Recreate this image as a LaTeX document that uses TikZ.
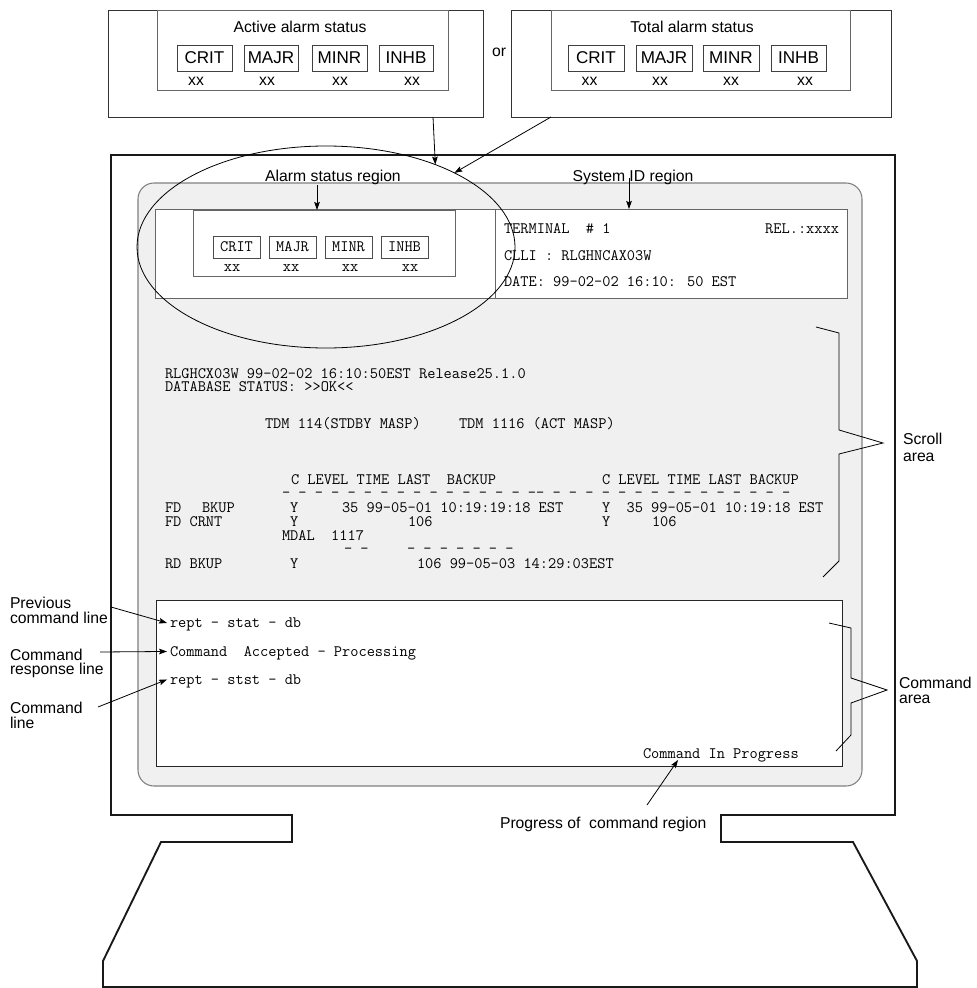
\documentclass[tikz,border=0pt]{standalone}
\usepackage{fontspec}
\setmainfont{Liberation Sans}
\usetikzlibrary{arrows.meta,shapes.geometric,fit}
\newlength{\pxu}\setlength{\pxu}{0.75pt}
\definecolor{scr}{HTML}{F0F0F0}
\begin{document}
\begin{tikzpicture}[x=0.75pt,y=-0.75pt,
  sans/.style={font=\fontsize{11.8}{14}\selectfont, inner sep=0pt, outer sep=0pt},
  sansl/.style={sans, anchor=base west},
  sansc/.style={sans, anchor=base},
  mono/.style={font=\fontsize{11.94}{14}\ttfamily, inner sep=0pt, outer sep=0pt,
               text height=6.5pt, text depth=1.5pt, anchor=base west},
  monoc/.style={mono, anchor=base},
  frame/.style={draw=black!80, line width=0.7pt, inner sep=0pt, outer sep=0pt},
  grayframe/.style={draw=black!60, line width=0.7pt, inner sep=0pt, outer sep=0pt},
  chip/.style={draw=black!75, line width=0.7pt, inner sep=0pt, outer sep=0pt,
               minimum height=26*\pxu, font=\fontsize{12.8}{14}\selectfont},
  mchip/.style={draw=black!70, line width=0.6pt, inner sep=0pt, outer sep=0pt,
               minimum width=47*\pxu, minimum height=22*\pxu, font=\fontsize{11.94}{14}\ttfamily},
  arr/.style={-{Stealth[length=6pt,width=4.2pt,inset=1pt]}, line width=0.6pt, black},
  brace/.style={line width=0.6pt, black},
]
\useasboundingbox (0,0) rectangle (977,988);

% ---------- top: Active alarm status ----------
\node[frame, fit={(108,10)(483,117)}] (aout) {};
\node[grayframe, fit={(157,10)(448,90)}] (ain) {};
\node[sansc] (atitle) at (300,32.5) {Active alarm status};
\node[chip, minimum width=55*\pxu] (ac1) at (204.5,58) {CRIT};
\node[chip, minimum width=54*\pxu] (ac2) at (271,58) {MAJR};
\node[chip, minimum width=55*\pxu] (ac3) at (339.5,58) {MINR};
\node[chip, minimum width=54*\pxu] (ac4) at (406,58) {INHB};
\node[sansc] (ax1) at (196,86) {xx};
\node[sansc] (ax2) at (267,86) {xx};
\node[sansc] (ax3) at (340,86) {xx};
\node[sansc] (ax4) at (412,86) {xx};

\node[sansc] (or) at (499,57) {or};

% ---------- top: Total alarm status ----------
\node[frame, fit={(511,10)(891,117)}] (tout) {};
\node[grayframe, fit={(551,10)(850,90)}] (tin) {};
\node[sansc] (ttitle) at (692,32.5) {Total alarm status};
\node[chip, minimum width=56*\pxu] (tc1) at (596,58) {CRIT};
\node[chip, minimum width=56*\pxu] (tc2) at (664,58) {MAJR};
\node[chip, minimum width=56*\pxu] (tc3) at (731,58) {MINR};
\node[chip, minimum width=55*\pxu] (tc4) at (798.5,58) {INHB};
\node[sansc] (tx1) at (589.5,86) {xx};
\node[sansc] (tx2) at (660,86) {xx};
\node[sansc] (tx3) at (731,86) {xx};
\node[sansc] (tx4) at (805,86) {xx};

% ---------- monitor ----------
\draw[line width=1.4pt, line join=miter, black!90]
  (111,155) -- (895,155) -- (895,815) -- (721,815) -- (721,842) -- (853,842)
  -- (917,961) -- (917,987) -- (103,987) -- (103,961) -- (161,842) -- (292,842)
  -- (292,815) -- (111,815) -- cycle;

\node[fit={(138,183)(862,786)}, inner sep=0pt, outer sep=0pt, draw=black!50,
      line width=0.8pt, fill=scr, rounded corners=12pt] (screen) {};

% top region
\node[grayframe, fill=white, fit={(155,209)(847,298)}] (topreg) {};
\draw[black!60, line width=0.7pt] (495,209) -- (495,298);
\node[grayframe, fit={(193,210)(455,276)}] (alin) {};
\node[mchip] (mc1) at (236.5,247) {CRIT};
\node[mchip] (mc2) at (292.5,247) {MAJR};
\node[mchip] (mc3) at (348.5,247) {MINR};
\node[mchip] (mc4) at (404.5,247) {INHB};
\node[monoc] (mx1) at (232,271) {xx};
\node[monoc] (mx2) at (291,271) {xx};
\node[monoc] (mx3) at (350,271) {xx};
\node[monoc] (mx4) at (410,271) {xx};

\node[mono] (term) at (504,233.5) {TERMINAL~~\#~1};
\node[mono, anchor=base east] (rel) at (839,233.5) {REL.:xxxx};
\node[mono] (clli) at (504,260.5) {CLLI : RLGHNCAX03W};
\node[mono] (date) at (504,286.5) {DATE: 99-02-02 16:10: 50 EST};

% region labels
\node[sansc] (asr) at (333,181) {Alarm status region};
\node[sansc] (sid) at (633,181) {System ID region};
\coordinate (asrt) at (317,185);
\coordinate (sidt) at (629,178);
\draw[arr] (asrt) -- (asrt |- alin.north);
\draw[arr] (sidt) -- (sidt |- topreg.north);

% ellipse
\node[ellipse, draw=black, line width=0.6pt, minimum width=378*\pxu, minimum height=202*\pxu,
      inner sep=0pt, outer sep=0pt] (ell) at (326,247) {};
\coordinate (atail) at (433,117);
\coordinate (ttail) at (551,117);
\draw[arr] (atail) -- (ell.37.8);
\draw[arr] (ttail) -- (ell.30.6);

% scroll area text
\node[mono] (s1) at (165,378) {RLGHCX03W 99-02-02 16:10:50EST Release25.1.0};
\node[mono] (s2) at (165,391.5) {DATABASE STATUS: >>OK<<};
\node[mono] (s3) at (265,428) {TDM 114(STDBY MASP)};
\node[mono] (s4) at (459,428) {TDM 1116 (ACT MASP)};
\node[mono] (s5) at (291,484) {C LEVEL TIME LAST~~BACKUP};
\node[mono] (s6) at (602,484) {C LEVEL TIME LAST BACKUP};
\node[mono] (s7) at (282,497.6) {- - - - - - - - - - - - - - - -\kern0pt- - - - - - - - - - - - - - - -};
\node[mono] (s8) at (165,512.5) {FD};
\node[mono] (s9) at (202,512.5) {BKUP};
\node[mono] (s10) at (290,512.5) {Y};
\node[mono] (s11) at (342,512.5) {35 99-05-01 10:19:19:18 EST};
\node[mono] (s12) at (602,512.5) {Y~~35 99-05-01 10:19:18 EST};
\node[mono] (s13) at (165,526.5) {FD CRNT};
\node[mono] (s14) at (290,526.5) {Y};
\node[mono] (s15) at (408,526.5) {106};
\node[mono] (s16) at (602,526.5) {Y};
\node[mono] (s17) at (652,526.5) {106};
\node[mono] (s18) at (282,540) {MDAL~~1117};
\node[mono] (s19) at (344,553.6) {- -};
\node[mono] (s20) at (407,553.6) {- - - - - - -};
\node[mono] (s21) at (165,568) {RD BKUP};
\node[mono] (s22) at (290,568) {Y};
\node[mono] (s23) at (417,568) {106 99-05-03 14:29:03EST};

% scroll brace
\draw[brace] (816,327) -- (839,333) -- (839,430) -- (883,443) -- (839,454) -- (839,561) -- (823,577);
\node[sansl] (scr1) at (903,444.5) {Scroll};
\node[sansl] (scr2) at (903,461) {area};

% command area
\node[fit={(156,600)(842,766)}, draw=black!85, line width=0.7pt, fill=white, inner sep=0pt, outer sep=0pt] (cmdbox) {};
\node[mono] (c1) at (170,627.5) {rept - stat - db};
\node[mono] (c2) at (170,656) {Command~~Accepted - Processing};
\node[mono] (c3) at (170,684) {rept - stst - db};
\node[mono] (cip) at (643,758) {Command In Progress};

\draw[brace] (829,623) -- (851,628) -- (851,678) -- (887,690) -- (851,703) -- (851,735) -- (836,751);
\node[sansl] (ca1) at (899,688) {Command};
\node[sansl] (ca2) at (899,703) {area};

% left labels
\node[sansl] (pl1) at (10,608) {Previous};
\node[sansl] (pl2) at (10,623) {command line};
\node[sansl] (rl1) at (10,660) {Command};
\node[sansl] (rl2) at (10,674) {response line};
\node[sansl] (cl1) at (10,713) {Command};
\node[sansl] (cl2) at (10,728) {line};
\coordinate (pt) at (111,607);
\coordinate (rt) at (100,652);
\coordinate (ct) at (98,707);
\draw[arr] (pt) -- ([xshift=-2.2pt,yshift=0.9pt]c1.west);
\draw[arr] (rt) -- ([xshift=-2.2pt,yshift=0.9pt]c2.west);
\draw[arr] (ct) -- ([xshift=-2.2pt,yshift=0.9pt]c3.west);

% progress label
\node[sansl] (prog) at (500,828.5) {Progress of\ \ command region};
\coordinate (progt) at (647,805);
\draw[arr] (progt) -- ([xshift=26.25pt]cip.south west);
\end{tikzpicture}
\end{document}
